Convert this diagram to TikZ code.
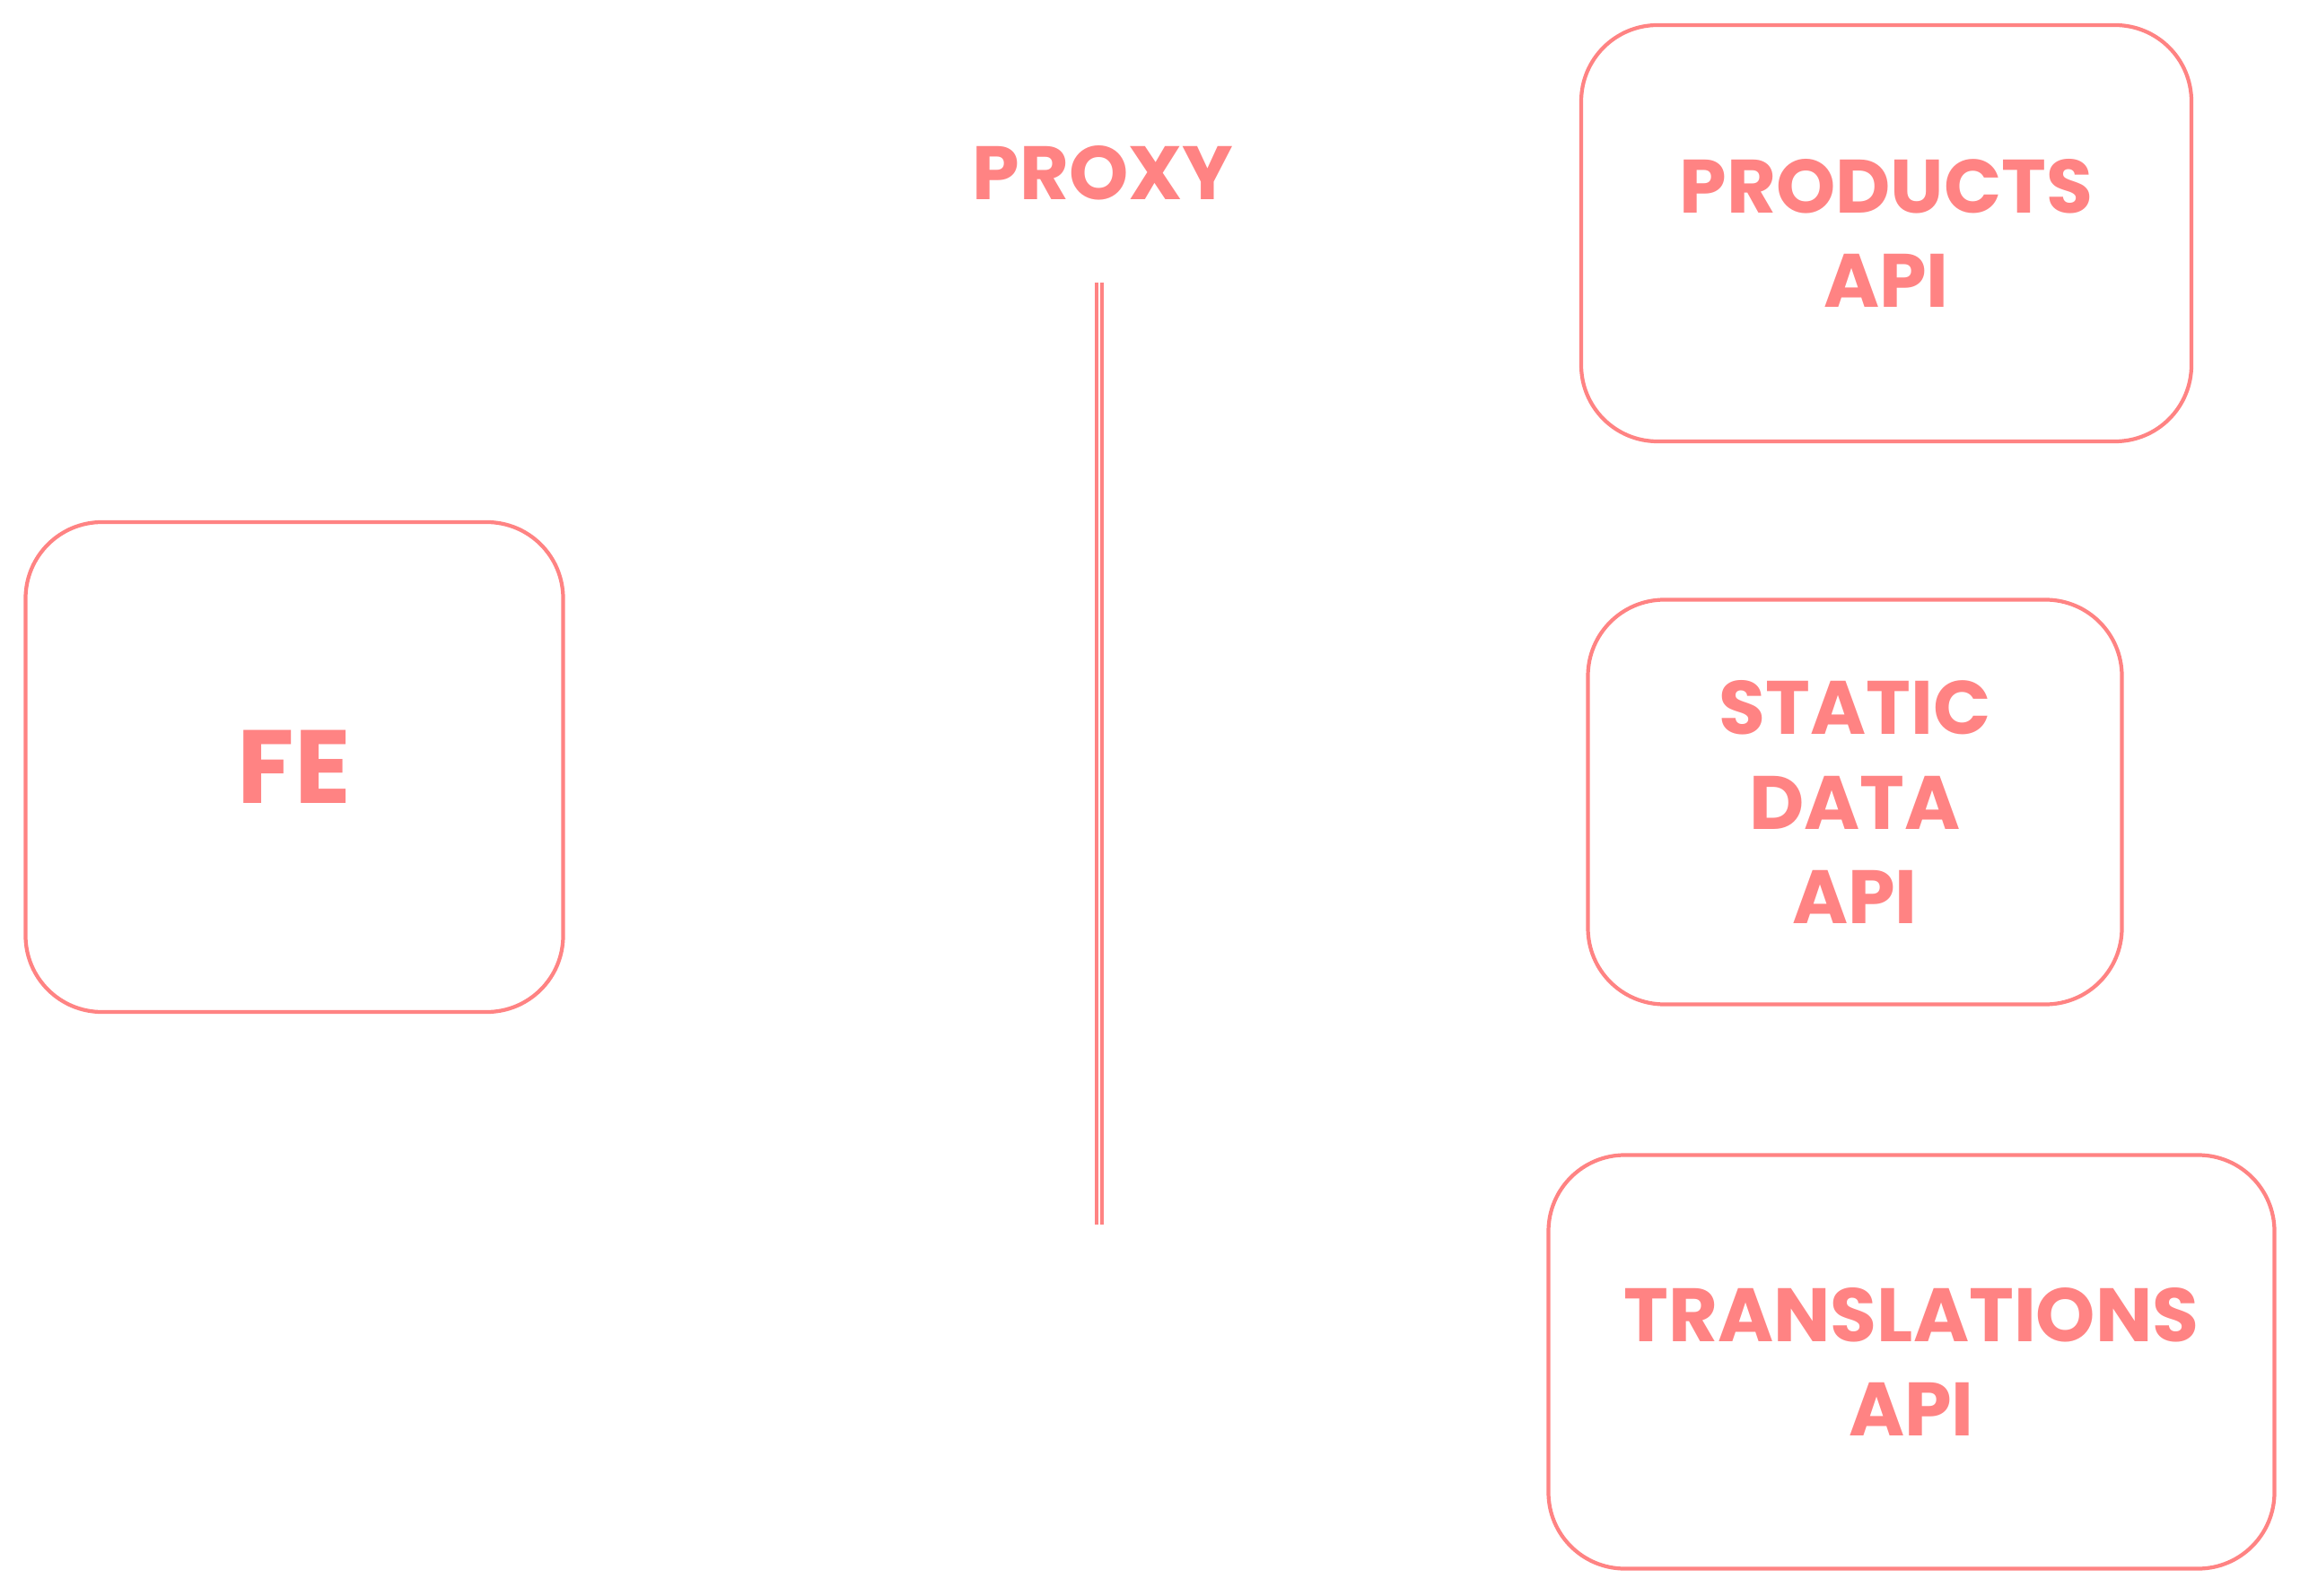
\documentclass[tikz,border=0pt]{standalone}
\usepackage{fontspec}
\setmainfont{Poppins}
\usetikzlibrary{positioning}
\definecolor{sketch}{HTML}{FF8383}

\begin{document}
\begin{tikzpicture}
  \tikzset{box/.style = {draw=sketch, line width=1.2pt, rounded corners=0.85cm,
      align=center, text=sketch, font=\fontsize{24}{30}\selectfont\bfseries}}
  \tikzset{line/.style = {draw=sketch, line width=0.9pt}}
  \tikzset{label/.style = {text=sketch, font=\fontsize{24}{30}\selectfont\bfseries}}

  \useasboundingbox (0,0) rectangle (25.63,-17.79);

  %%%%%%%%%%%%

  \node[box, minimum width=5.99cm, minimum height=5.46cm,
  font=\fontsize{33}{38}\selectfont\bfseries] (fe) at (3.28,-8.55) {FE};

  %%%%%%%%%%%%

  \node[label] (proxy) at (12.29,-1.93) {PROXY};
  \coordinate (ptop) at (12.22,-3.15);
  \coordinate (pbot) at (12.22,-13.65);

  \draw[line] (ptop) -- (pbot);
  \draw[line] ([xshift=0.06cm]ptop) -- ([xshift=0.06cm]pbot);

  %%%%%%%%%%%%

  \node[box, minimum width=6.8cm, minimum height=4.64cm] (products)
  at (21.02,-2.60) {PRODUCTS\\API};

  \node[box, minimum width=5.95cm, minimum height=4.51cm] (static)
  at (20.67,-8.94) {STATIC\\DATA\\API};

  \node[box, minimum width=8.09cm, minimum height=4.61cm] (translations)
  at (21.30,-15.18) {TRANSLATIONS\\API};

\end{tikzpicture}
\end{document}
